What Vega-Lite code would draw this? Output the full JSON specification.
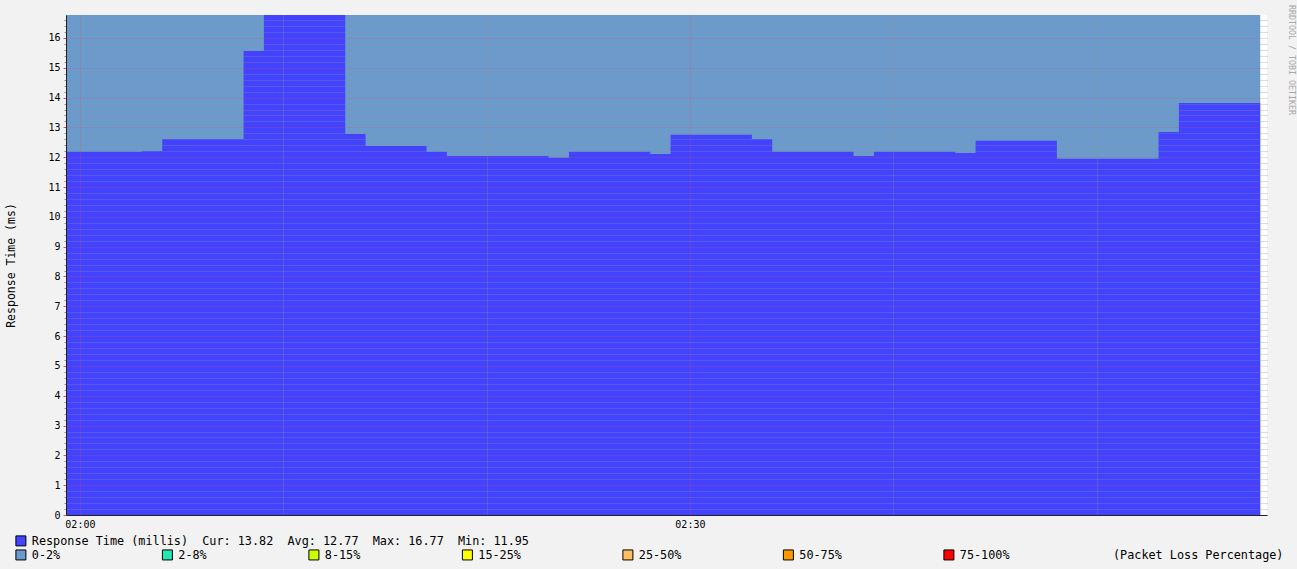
{
  "$schema": "https://vega.github.io/schema/vega-lite/v6.json",
  "width": 1201,
  "height": 500,
  "autosize": {"type": "none"},
  "padding": {"left": 66, "top": 15, "right": 30, "bottom": 54},
  "background": "#f2f2f2",
  "title": {
    "text": "RRDTOOL / TOBI OETIKER",
    "orient": "right",
    "anchor": "start",
    "frame": "group",
    "offset": 4,
    "dx": -10,
    "font": "DejaVu Sans Mono",
    "fontSize": 8.3,
    "fontWeight": "normal",
    "color": "#a8a8a8"
  },
  "data": {
    "values": [
      {"t": "2024-01-01T01:59:03", "rt": 12.18},
      {"t": "2024-01-01T02:00:03", "rt": 12.18},
      {"t": "2024-01-01T02:01:03", "rt": 12.18},
      {"t": "2024-01-01T02:02:03", "rt": 12.18},
      {"t": "2024-01-01T02:03:03", "rt": 12.21},
      {"t": "2024-01-01T02:04:03", "rt": 12.61},
      {"t": "2024-01-01T02:05:03", "rt": 12.61},
      {"t": "2024-01-01T02:06:03", "rt": 12.61},
      {"t": "2024-01-01T02:07:03", "rt": 12.61},
      {"t": "2024-01-01T02:08:03", "rt": 15.56},
      {"t": "2024-01-01T02:09:03", "rt": 16.77},
      {"t": "2024-01-01T02:10:03", "rt": 16.77},
      {"t": "2024-01-01T02:11:03", "rt": 16.77},
      {"t": "2024-01-01T02:12:03", "rt": 16.77},
      {"t": "2024-01-01T02:13:03", "rt": 12.78},
      {"t": "2024-01-01T02:14:03", "rt": 12.38},
      {"t": "2024-01-01T02:15:03", "rt": 12.38},
      {"t": "2024-01-01T02:16:03", "rt": 12.38},
      {"t": "2024-01-01T02:17:03", "rt": 12.18},
      {"t": "2024-01-01T02:18:03", "rt": 12.04},
      {"t": "2024-01-01T02:19:03", "rt": 12.04},
      {"t": "2024-01-01T02:20:03", "rt": 12.04},
      {"t": "2024-01-01T02:21:03", "rt": 12.04},
      {"t": "2024-01-01T02:22:03", "rt": 12.04},
      {"t": "2024-01-01T02:23:03", "rt": 11.98},
      {"t": "2024-01-01T02:24:03", "rt": 12.18},
      {"t": "2024-01-01T02:25:03", "rt": 12.18},
      {"t": "2024-01-01T02:26:03", "rt": 12.18},
      {"t": "2024-01-01T02:27:03", "rt": 12.18},
      {"t": "2024-01-01T02:28:03", "rt": 12.11},
      {"t": "2024-01-01T02:29:03", "rt": 12.75},
      {"t": "2024-01-01T02:30:03", "rt": 12.75},
      {"t": "2024-01-01T02:31:03", "rt": 12.75},
      {"t": "2024-01-01T02:32:03", "rt": 12.75},
      {"t": "2024-01-01T02:33:03", "rt": 12.61},
      {"t": "2024-01-01T02:34:03", "rt": 12.18},
      {"t": "2024-01-01T02:35:03", "rt": 12.18},
      {"t": "2024-01-01T02:36:03", "rt": 12.18},
      {"t": "2024-01-01T02:37:03", "rt": 12.18},
      {"t": "2024-01-01T02:38:03", "rt": 12.04},
      {"t": "2024-01-01T02:39:03", "rt": 12.18},
      {"t": "2024-01-01T02:40:03", "rt": 12.18},
      {"t": "2024-01-01T02:41:03", "rt": 12.18},
      {"t": "2024-01-01T02:42:03", "rt": 12.18},
      {"t": "2024-01-01T02:43:03", "rt": 12.14},
      {"t": "2024-01-01T02:44:03", "rt": 12.55},
      {"t": "2024-01-01T02:45:03", "rt": 12.55},
      {"t": "2024-01-01T02:46:03", "rt": 12.55},
      {"t": "2024-01-01T02:47:03", "rt": 12.55},
      {"t": "2024-01-01T02:48:03", "rt": 11.95},
      {"t": "2024-01-01T02:49:03", "rt": 11.95},
      {"t": "2024-01-01T02:50:03", "rt": 11.95},
      {"t": "2024-01-01T02:51:03", "rt": 11.95},
      {"t": "2024-01-01T02:52:03", "rt": 11.95},
      {"t": "2024-01-01T02:53:03", "rt": 12.85},
      {"t": "2024-01-01T02:54:03", "rt": 13.82},
      {"t": "2024-01-01T02:55:03", "rt": 13.82},
      {"t": "2024-01-01T02:56:03", "rt": 13.82},
      {"t": "2024-01-01T02:57:03", "rt": 13.82},
      {"t": "2024-01-01T02:58:03", "rt": 13.82}
    ]
  },
  "encoding": {
    "x": {
      "field": "t",
      "type": "temporal",
      "scale": {
        "domain": [
          {"year": 2024, "month": 1, "date": 1, "hours": 1, "minutes": 59, "seconds": 19},
          {"year": 2024, "month": 1, "date": 1, "hours": 2, "minutes": 58, "seconds": 23}
        ]
      }
    }
  },
  "layer": [
    {
      "mark": {"type": "area", "interpolate": "step-after", "clip": true, "opacity": 1},
      "encoding": {
        "x": {
          "field": "t",
          "type": "temporal",
          "axis": {
            "orient": "bottom",
            "values": [
              {"year": 2024, "month": 1, "date": 1, "hours": 2, "minutes": 10},
              {"year": 2024, "month": 1, "date": 1, "hours": 2, "minutes": 20},
              {"year": 2024, "month": 1, "date": 1, "hours": 2, "minutes": 40},
              {"year": 2024, "month": 1, "date": 1, "hours": 2, "minutes": 50}
            ],
            "labels": false,
            "ticks": false,
            "domain": false,
            "title": null,
            "grid": true,
            "gridColor": "#8f8f8f",
            "gridOpacity": 0.6,
            "gridDash": [1, 1],
            "zindex": 1
          }
        },
        "y": {
          "datum": 16.77,
          "type": "quantitative",
          "scale": {"domain": [0, 16.77], "nice": false, "zero": true},
          "axis": {
            "orient": "left",
            "values": [0.2,0.4,0.6,0.8,1.2,1.4,1.6,1.8,2.2,2.4,2.6,2.8,3.2,3.4,3.6,3.8,4.2,4.4,4.6,4.8,5.2,5.4,5.6,5.8,6.2,6.4,6.6,6.8,7.2,7.4,7.6,7.8,8.2,8.4,8.6,8.8,9.2,9.4,9.6,9.8,10.2,10.4,10.6,10.8,11.2,11.4,11.6,11.8,12.2,12.4,12.6,12.8,13.2,13.4,13.6,13.8,14.2,14.4,14.6,14.8,15.2,15.4,15.6,15.8,16.2,16.4,16.6],
            "labels": false,
            "ticks": true,
            "tickSize": 2,
            "tickColor": "#8f8f8f",
            "domain": false,
            "title": null,
            "grid": true,
            "gridColor": "#8f8f8f",
            "gridOpacity": 0.6,
            "gridDash": [1, 1],
            "zindex": 1
          }
        },
        "fill": {
          "datum": "0-2%",
          "type": "nominal",
          "scale": {
            "domain": ["0-2%", "2-8%", "8-15%", "15-25%", "25-50%", "50-75%", "75-100%"],
            "range": ["#6a9bcc", "#20e8b0", "#ccff00", "#ffff00", "#ffc060", "#ff9900", "#ff0000"]
          },
          "legend": {
            "orient": "none",
            "legendX": -51,
            "legendY": 534,
            "direction": "horizontal",
            "padding": 0,
            "title": "(Packet Loss Percentage)",
            "titleOrient": "right",
            "titleAnchor": "middle",
            "titleBaseline": "middle",
            "titleAlign": "left",
            "titlePadding": 103,
            "titleFont": "DejaVu Sans Mono",
            "titleFontSize": 11.8,
            "titleFontWeight": "normal",
            "titleColor": "#000000",
            "columnPadding": 98.5,
            "symbolType": "square",
            "symbolSize": 100,
            "symbolStrokeColor": "#000000",
            "symbolStrokeWidth": 1,
            "symbolOpacity": 1,
            "labelFont": "DejaVu Sans Mono",
            "labelFontSize": 11.8,
            "labelColor": "#000000",
            "labelOffset": 5
          }
        }
      }
    },
    {
      "mark": {"type": "area", "interpolate": "step-after", "clip": true, "opacity": 1},
      "encoding": {
        "x": {
          "field": "t",
          "type": "temporal",
          "axis": {
            "orient": "bottom",
            "values": [
              {"year": 2024, "month": 1, "date": 1, "hours": 2, "minutes": 0},
              {"year": 2024, "month": 1, "date": 1, "hours": 2, "minutes": 30}
            ],
            "format": "%H:%M",
            "labelFont": "DejaVu Sans Mono",
            "labelFontSize": 10,
            "labelColor": "#000000",
            "labelPadding": 4,
            "labelFlush": false,
            "ticks": false,
            "domain": true,
            "domainColor": "#202020",
            "title": null,
            "grid": true,
            "gridColor": "#de4f4f",
            "gridOpacity": 0.45,
            "gridDash": [1, 1],
            "zindex": 1
          }
        },
        "y": {
          "field": "rt",
          "type": "quantitative",
          "axis": {
            "orient": "left",
            "values": [0,1,2,3,4,5,6,7,8,9,10,11,12,13,14,15,16],
            "labelFont": "DejaVu Sans Mono",
            "labelFontSize": 10,
            "labelColor": "#000000",
            "labelPadding": 3,
            "ticks": true,
            "tickSize": 3,
            "tickColor": "#de4f4f",
            "domain": true,
            "domainColor": "#202020",
            "title": "Response Time (ms)",
            "titleFont": "DejaVu Sans Mono",
            "titleFontSize": 11.5,
            "titleFontWeight": "normal",
            "titleColor": "#000000",
            "titleX": -55,
            "titleY": 250,
            "titleAngle": -90,
            "titleAlign": "center",
            "titleBaseline": "middle",
            "grid": true,
            "gridColor": "#de4f4f",
            "gridOpacity": 0.45,
            "gridDash": [1, 1],
            "zindex": 1
          }
        },
        "fill": {
          "datum": "Response Time (millis)",
          "type": "nominal",
          "scale": {"range": ["#4242ff"]},
          "legend": {
            "orient": "none",
            "legendX": -51,
            "legendY": 520,
            "direction": "horizontal",
            "padding": 0,
            "title": null,
            "symbolType": "square",
            "symbolSize": 100,
            "symbolStrokeColor": "#000000",
            "symbolStrokeWidth": 1,
            "symbolOpacity": 1,
            "labelFont": "DejaVu Sans Mono",
            "labelFontSize": 11.8,
            "labelColor": "#000000",
            "labelOffset": 5,
            "labelLimit": 800,
            "labelExpr": "datum.label + '\u00a0\u00a0Cur:\u00a013.82\u00a0\u00a0Avg:\u00a012.77\u00a0\u00a0Max:\u00a016.77\u00a0\u00a0Min:\u00a011.95'"
          }
        }
      }
    }
  ],
  "resolve": {
    "scale": {"fill": "independent"},
    "axis": {"x": "independent", "y": "independent"},
    "legend": {"fill": "independent"}
  },
  "config": {
    "view": {"fill": "#ffffff", "stroke": null}
  }
}
